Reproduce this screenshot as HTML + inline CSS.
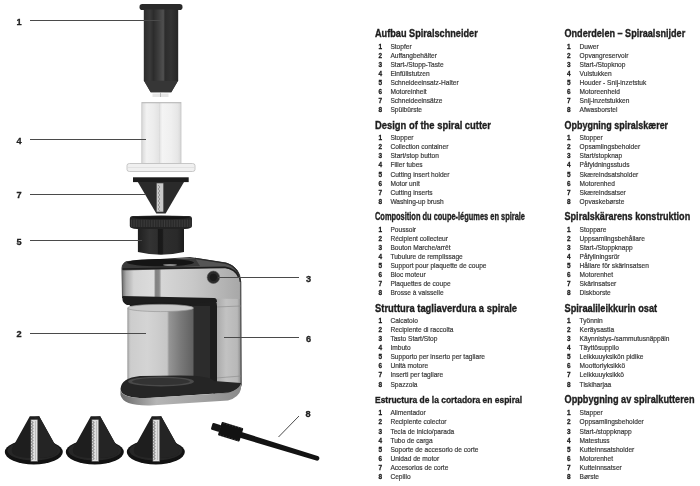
<!DOCTYPE html>
<html><head><meta charset="utf-8">
<style>
html,body{margin:0;padding:0;background:#fff;}
body{width:700px;height:486px;overflow:hidden;position:relative;}
svg{position:absolute;left:0;top:0;will-change:transform;}
.h{font-family:"Liberation Sans",sans-serif;font-weight:bold;fill:#1e1e1e;stroke:#1e1e1e;stroke-width:0.35px;}
.n{font-family:"Liberation Sans",sans-serif;font-weight:bold;font-size:7.6px;fill:#1a1a1a;stroke:#1a1a1a;stroke-width:0.3px;}
.t{font-family:"Liberation Sans",sans-serif;font-size:7.7px;fill:#383838;stroke:#383838;stroke-width:0.2px;}
.lab{font-family:"Liberation Sans",sans-serif;font-weight:bold;font-size:9.2px;fill:#222;stroke:#222;stroke-width:0.3px;}
</style></head><body>
<svg width="700" height="486" viewBox="0 0 700 486">
<defs>
<linearGradient id="stopG" x1="143" x2="178" y1="0" y2="0" gradientUnits="userSpaceOnUse">
<stop offset="0" stop-color="#2a2a2a"/><stop offset="0.2" stop-color="#3a3a3a"/><stop offset="0.3" stop-color="#2c2c2c"/><stop offset="0.45" stop-color="#3e3e3e"/><stop offset="0.58" stop-color="#505050"/><stop offset="0.63" stop-color="#2c2c2c"/><stop offset="0.8" stop-color="#333"/><stop offset="1" stop-color="#262626"/>
</linearGradient>
<linearGradient id="steel" x1="122" x2="240" y1="0" y2="0" gradientUnits="userSpaceOnUse">
<stop offset="0" stop-color="#6a6a6a"/><stop offset="0.035" stop-color="#a8a8a8"/><stop offset="0.1" stop-color="#d4d4d4"/><stop offset="0.27" stop-color="#dcdcdc"/><stop offset="0.285" stop-color="#808080"/><stop offset="0.315" stop-color="#888"/><stop offset="0.335" stop-color="#d6d6d6"/><stop offset="0.6" stop-color="#c8c8c8"/><stop offset="1" stop-color="#a8a8a8"/>
</linearGradient>
<linearGradient id="colG" x1="216" x2="241" y1="0" y2="0" gradientUnits="userSpaceOnUse">
<stop offset="0" stop-color="#a8a8a8"/><stop offset="0.4" stop-color="#c2c2c2"/><stop offset="0.85" stop-color="#b8b8b8"/><stop offset="1" stop-color="#8a8a8a"/>
</linearGradient>
<linearGradient id="jarG" x1="127.5" x2="193.5" y1="0" y2="0" gradientUnits="userSpaceOnUse">
<stop offset="0" stop-color="#b0b0b0"/><stop offset="0.05" stop-color="#cdcdcd"/><stop offset="0.3" stop-color="#d4d4d4"/><stop offset="0.6" stop-color="#c6c6c6"/><stop offset="0.63" stop-color="#959595"/><stop offset="0.8" stop-color="#7a7a7a"/><stop offset="1" stop-color="#606060"/>
</linearGradient>
<linearGradient id="tubeG" x1="142" x2="181" y1="0" y2="0" gradientUnits="userSpaceOnUse">
<stop offset="0" stop-color="#dadada"/><stop offset="0.12" stop-color="#f2f2f2"/><stop offset="0.3" stop-color="#ececec"/><stop offset="0.45" stop-color="#e2e2e2"/><stop offset="0.52" stop-color="#f4f4f4"/><stop offset="0.75" stop-color="#efefef"/><stop offset="0.92" stop-color="#e6e6e6"/><stop offset="1" stop-color="#d6d6d6"/>
</linearGradient>
<linearGradient id="baseRim" x1="0" x2="1" y1="0" y2="0">
<stop offset="0" stop-color="#6a6a6a"/><stop offset="0.3" stop-color="#b5b5b5"/><stop offset="0.7" stop-color="#a0a0a0"/><stop offset="1" stop-color="#8a8a8a"/>
</linearGradient>
<linearGradient id="holdG" x1="138" x2="184" y1="0" y2="0" gradientUnits="userSpaceOnUse">
<stop offset="0" stop-color="#1f1f1f"/><stop offset="0.25" stop-color="#333"/><stop offset="0.42" stop-color="#2e2e2e"/><stop offset="0.44" stop-color="#181818"/><stop offset="0.53" stop-color="#1a1a1a"/><stop offset="0.56" stop-color="#2d2d2d"/><stop offset="0.85" stop-color="#2a2a2a"/><stop offset="1" stop-color="#1c1c1c"/>
</linearGradient>
</defs>
<!-- stopper -->
<rect x="139.5" y="4" width="43" height="6" rx="2.8" fill="#2a2a2a"/>
<path d="M143.8,9.5 L178.2,9.5 L178.2,80.5 L171.3,92.2 L150.7,92.2 L143.8,80.5 Z" fill="url(#stopG)"/>
<path d="M144,80.7 L178,80.7 L171.3,92.2 L150.7,92.2 Z" fill="#363636"/>
<rect x="152.5" y="93.5" width="16" height="3.5" fill="#e6e6e6"/>
<line x1="160.5" y1="92" x2="160.5" y2="97" stroke="#999" stroke-width="0.6"/>
<!-- filler tube -->
<rect x="141.8" y="102.5" width="39.2" height="61" fill="url(#tubeG)" stroke="#c9c9c9" stroke-width="0.9"/>
<line x1="159.5" y1="103" x2="159.5" y2="163" stroke="#dadada" stroke-width="0.7"/>
<line x1="142" y1="102.8" x2="181" y2="102.8" stroke="#b8b8b8" stroke-width="0.8"/>
<path d="M127,165.5 Q127,163.5 129.5,163.5 L192.5,163.5 Q195,163.5 195,165.5 L195,169.5 Q195,171.5 192.5,171.5 L129.5,171.5 Q127,171.5 127,169.5 Z" fill="#f0f0f0" stroke="#c2c2c2" stroke-width="0.9"/>
<line x1="128" y1="167.5" x2="194" y2="167.5" stroke="#d8d8d8" stroke-width="0.6"/>
<!-- insert 7 -->
<rect x="133" y="177.3" width="55.7" height="4.8" fill="#1c1c1c"/>
<polygon points="137.8,182 184,182 165.6,213.5 156.3,213.5" fill="#2a2a2a"/>
<rect x="156.3" y="183" width="7.4" height="29" fill="#c8c8c8" stroke="#3a3a3a" stroke-width="0.6"/>
<path d="M158,185 l2,2 l-2,2 l2,2 l-2,2 l2,2 l-2,2 l2,2 l-2,2 l2,2 l-2,2 l2,2 l-2,2 l2,2" fill="none" stroke="#777" stroke-width="0.6"/>
<!-- holder 5 -->
<path d="M137.9,226 L184,226 L184,252 Q161,257.5 137.9,252 Z" fill="url(#holdG)"/>
<path d="M129.8,219 Q129.8,216 133,216 L189,216 Q192,216 192,219 L192,226 Q192,228.5 185,229 L137,229 Q129.8,228.5 129.8,226 Z" fill="#222"/>
<g stroke="#464646" stroke-width="0.7">
<path d="M131.5,219.5 v7.5 M133.2,219.5 v7.5 M134.8,219.5 v7.5 M136.4,219.5 v7.5 M138.1,219.5 v7.5 M139.8,219.5 v7.5 M141.4,219.5 v7.5 M143.1,219.5 v7.5 M144.7,219.5 v7.5 M146.3,219.5 v7.5 M148.0,219.5 v7.5 M149.7,219.5 v7.5 M151.3,219.5 v7.5 M152.9,219.5 v7.5 M154.6,219.5 v7.5 M156.2,219.5 v7.5 M157.9,219.5 v7.5 M159.6,219.5 v7.5 M161.2,219.5 v7.5 M162.8,219.5 v7.5 M164.5,219.5 v7.5 M166.2,219.5 v7.5 M167.8,219.5 v7.5 M169.4,219.5 v7.5 M171.1,219.5 v7.5 M172.8,219.5 v7.5 M174.4,219.5 v7.5 M176.1,219.5 v7.5 M177.7,219.5 v7.5 M179.3,219.5 v7.5 M181.0,219.5 v7.5 M182.7,219.5 v7.5 M184.3,219.5 v7.5 M185.9,219.5 v7.5 M187.6,219.5 v7.5 M189.2,219.5 v7.5 M190.9,219.5 v7.5"/>
</g>
<ellipse cx="160.9" cy="217.8" rx="30" ry="2" fill="#141414" stroke="#333" stroke-width="0.5"/>
<!-- motor unit: right column + head silhouette -->
<path d="M122,268 Q122,262 130,261.5 L190,257.5 L226,263 Q240,267 240.8,282 L241.2,385 Q241,390 230,393 L214,395 L214,298 L122.5,298 Z" fill="url(#colG)" stroke="#262626" stroke-width="0.9"/>
<line x1="216" y1="307" x2="241" y2="306" stroke="#8a8a8a" stroke-width="0.6"/>
<line x1="216" y1="378" x2="241" y2="376" stroke="#8a8a8a" stroke-width="0.6"/>
<!-- dark area behind jar + frame -->
<path d="M180,299 L211,299 Q217,299 217,306 L217,382 Q217,390 208,392 L180,392 Z" fill="#1e1e1e"/>
<rect x="189" y="306" width="21" height="76" fill="#2c2c2c"/>
<!-- steel band of head -->
<path d="M122.5,268.5 L226,267 Q238.5,270 239.6,283 L239.6,299 L122.5,297 Z" fill="url(#steel)"/>
<!-- top plate -->
<path d="M122.3,268.5 Q122,262 128,261 L195,258.3 L226,263.5 Q236.5,266.5 239.5,274 L238,277 Q235,270 225,268 L122.5,270.5 Z" fill="#555"/>
<path d="M122.3,268.5 Q122,262 128,261 L195,258.3 L200,266 L122.5,270 Z" fill="#3a3a3a"/>
<ellipse cx="160.5" cy="262.6" rx="33.5" ry="3.6" fill="#151515"/>
<ellipse cx="170" cy="265" rx="7" ry="0.9" fill="#8a8a8a"/>
<path d="M122.5,269 L225,267.3 Q235.5,269 238.6,277" fill="none" stroke="#1c1c1c" stroke-width="1.5"/>
<path d="M195,258.3 L226,263.4 Q238.5,266.5 240.3,282" fill="none" stroke="#2a2a2a" stroke-width="1.3"/>
<!-- button -->
<circle cx="213.4" cy="277.3" r="6.2" fill="#2a2a2a" stroke="#555" stroke-width="0.6"/>
<circle cx="213.4" cy="277.3" r="3.6" fill="#1a1a1a"/>
<!-- underside lip -->
<path d="M122.5,296 L214,298 Q217,298 217,302 L210,302 Q200,302 194,305 L127,305 Q123,303 122.5,300 Z" fill="#1d1d1d"/>
<ellipse cx="160.5" cy="305.5" rx="31" ry="3" fill="#1a1a1a"/>
<!-- jar -->
<path d="M127.5,308 L193.5,308 L193.5,383 Q160,391 127.5,383 Z" fill="url(#jarG)"/>
<ellipse cx="160.5" cy="308" rx="33" ry="3.6" fill="#c9c9c9" stroke="#9a9a9a" stroke-width="0.7"/>
<line x1="128" y1="308" x2="128" y2="383" stroke="#a0a0a0" stroke-width="0.9"/>
<!-- base -->
<path d="M120.5,389 Q121,378 140,376 L180,375.5 Q210,375.5 214,381 L241,383 Q241,389 230,392.5 L150,398 Q121,399 120.5,389 Z" fill="#252525"/>
<ellipse cx="161" cy="381.5" rx="33" ry="5" fill="#4a4a4a"/>
<ellipse cx="161" cy="381.5" rx="29" ry="3.5" fill="#333"/>
<path d="M120.5,390 Q122,398 145,398 L228,393 Q238,390 241,384 L241,389 Q239,397.5 228,400.5 L150,405.5 Q123,406 120.5,395 Z" fill="url(#baseRim)"/>
<!-- cones -->
<g id="cone1">
<ellipse cx="33.8" cy="452" rx="29" ry="12.5" fill="#121212"/>
<ellipse cx="33.8" cy="450.5" rx="26.5" ry="10" fill="#262626"/>
<path d="M29.8,416.3 L39.2,416.3 L53.5,442 Q58,448 57,452 Q55,458 34.5,458 Q14,458 12,452 Q11,448 15.5,442 Z" fill="#1e1e1e"/>
<path d="M34.5,417 L39.2,416.3 L53.5,442 Q58,448 57,452 Q55,458 34.5,458 Z" fill="#242424"/>
<rect x="30.8" y="419.5" width="7" height="42" fill="#e0e0e0" stroke="#3a3a3a" stroke-width="0.5"/>
<path d="M31.3,421 l2,1.5 l-2,1.5 l2,1.5 l-2,1.5 l2,1.5 l-2,1.5 l2,1.5 l-2,1.5 l2,1.5 l-2,1.5 l2,1.5 l-2,1.5 l2,1.5 l-2,1.5 l2,1.5 l-2,1.5 l2,1.5 l-2,1.5 l2,1.5 l-2,1.5 l2,1.5 l-2,1.5 l2,1.5 l-2,1.5 l2,1.5 l-2,1.5" fill="none" stroke="#555" stroke-width="0.7"/>
<line x1="35.5" y1="421" x2="35.5" y2="460" stroke="#9a9a9a" stroke-width="0.5"/>
</g>
<use href="#cone1" x="61"/>
<use href="#cone1" x="122"/>
<!-- brush -->
<g transform="rotate(17 228 431)">
<path d="M238,428 L321,428.6 A2.4,2.4 0 0 1 321,433.4 L238,434 Z" fill="#131313"/>
<rect x="219.5" y="424" width="22.5" height="14" rx="1" fill="#121212"/>
<g stroke="#fff" stroke-width="0.5" opacity="0.35">
<path d="M222,424 v1.3 M225,424 v1.3 M228,424 v1.3 M231,424 v1.3 M234,424 v1.3 M237,424 v1.3 M240,424 v1.3 M222,438 v-1.3 M225,438 v-1.3 M228,438 v-1.3 M231,438 v-1.3 M234,438 v-1.3 M237,438 v-1.3 M240,438 v-1.3"/>
</g>
<rect x="211" y="427.5" width="9" height="7" rx="1.2" fill="#151515"/>
</g>

<!-- leaders & labels -->
<g stroke="#4a4a4a" stroke-width="1">
<line x1="30" y1="20.5" x2="163" y2="20.5"/>
<line x1="30" y1="139.5" x2="146" y2="139.5"/>
<line x1="30" y1="194.5" x2="145" y2="194.5"/>
<line x1="30" y1="240.5" x2="142" y2="240.5"/>
<line x1="30" y1="333.5" x2="146" y2="333.5"/>
<line x1="218" y1="277.5" x2="299" y2="277.5"/>
<line x1="224" y1="337.5" x2="299" y2="337.5"/>
<line x1="278.5" y1="437" x2="299" y2="416"/>
</g>
<text class="lab" x="16.6" y="24.8">1</text>
<text class="lab" x="16.6" y="143.8">4</text>
<text class="lab" x="16.6" y="198.3">7</text>
<text class="lab" x="16.6" y="244.5">5</text>
<text class="lab" x="16.6" y="337.3">2</text>
<text class="lab" x="306" y="281.8">3</text>
<text class="lab" x="306" y="341.8">6</text>
<text class="lab" x="305.5" y="416.8">8</text>

<text class="h" x="375" y="37" font-size="10.8" textLength="102.7" lengthAdjust="spacingAndGlyphs">Aufbau Spiralschneider</text>
<text class="n" x="378.4" y="48.7" textLength="3.6" lengthAdjust="spacingAndGlyphs">1</text>
<text class="t" x="390.4" y="48.7" textLength="21.27" lengthAdjust="spacingAndGlyphs">Stopfer</text>
<text class="n" x="378.4" y="57.8" textLength="3.6" lengthAdjust="spacingAndGlyphs">2</text>
<text class="t" x="390.4" y="57.8" textLength="46.47" lengthAdjust="spacingAndGlyphs">Auffangbehälter</text>
<text class="n" x="378.4" y="66.9" textLength="3.6" lengthAdjust="spacingAndGlyphs">3</text>
<text class="t" x="390.4" y="66.9" textLength="53.18" lengthAdjust="spacingAndGlyphs">Start-/Stopp-Taste</text>
<text class="n" x="378.4" y="76.0" textLength="3.6" lengthAdjust="spacingAndGlyphs">4</text>
<text class="t" x="390.4" y="76.0" textLength="39.25" lengthAdjust="spacingAndGlyphs">Einfüllstutzen</text>
<text class="n" x="378.4" y="85.1" textLength="3.6" lengthAdjust="spacingAndGlyphs">5</text>
<text class="t" x="390.4" y="85.1" textLength="68.22" lengthAdjust="spacingAndGlyphs">Schneideeinsatz-Halter</text>
<text class="n" x="378.4" y="94.2" textLength="3.6" lengthAdjust="spacingAndGlyphs">6</text>
<text class="t" x="390.4" y="94.2" textLength="36.31" lengthAdjust="spacingAndGlyphs">Motoreinheit</text>
<text class="n" x="378.4" y="103.3" textLength="3.6" lengthAdjust="spacingAndGlyphs">7</text>
<text class="t" x="390.4" y="103.3" textLength="52.09" lengthAdjust="spacingAndGlyphs">Schneideeinsätze</text>
<text class="n" x="378.4" y="112.4" textLength="3.6" lengthAdjust="spacingAndGlyphs">8</text>
<text class="t" x="390.4" y="112.4" textLength="31.55" lengthAdjust="spacingAndGlyphs">Spülbürste</text>
<text class="h" x="375" y="128.7" font-size="10.8" textLength="116" lengthAdjust="spacingAndGlyphs">Design of the spiral cutter</text>
<text class="n" x="378.4" y="140.1" textLength="3.6" lengthAdjust="spacingAndGlyphs">1</text>
<text class="t" x="390.4" y="140.1" textLength="23.11" lengthAdjust="spacingAndGlyphs">Stopper</text>
<text class="n" x="378.4" y="149.2" textLength="3.6" lengthAdjust="spacingAndGlyphs">2</text>
<text class="t" x="390.4" y="149.2" textLength="57.95" lengthAdjust="spacingAndGlyphs">Collection container</text>
<text class="n" x="378.4" y="158.3" textLength="3.6" lengthAdjust="spacingAndGlyphs">3</text>
<text class="t" x="390.4" y="158.3" textLength="48.42" lengthAdjust="spacingAndGlyphs">Start/stop button</text>
<text class="n" x="378.4" y="167.4" textLength="3.6" lengthAdjust="spacingAndGlyphs">4</text>
<text class="t" x="390.4" y="167.4" textLength="32.27" lengthAdjust="spacingAndGlyphs">Filler tubes</text>
<text class="n" x="378.4" y="176.5" textLength="3.6" lengthAdjust="spacingAndGlyphs">5</text>
<text class="t" x="390.4" y="176.5" textLength="59.05" lengthAdjust="spacingAndGlyphs">Cutting insert holder</text>
<text class="n" x="378.4" y="185.6" textLength="3.6" lengthAdjust="spacingAndGlyphs">6</text>
<text class="t" x="390.4" y="185.6" textLength="29.34" lengthAdjust="spacingAndGlyphs">Motor unit</text>
<text class="n" x="378.4" y="194.7" textLength="3.6" lengthAdjust="spacingAndGlyphs">7</text>
<text class="t" x="390.4" y="194.7" textLength="42.18" lengthAdjust="spacingAndGlyphs">Cutting inserts</text>
<text class="n" x="378.4" y="203.8" textLength="3.6" lengthAdjust="spacingAndGlyphs">8</text>
<text class="t" x="390.4" y="203.8" textLength="53.30" lengthAdjust="spacingAndGlyphs">Washing-up brush</text>
<text class="h" x="375" y="219.6" font-size="10.0" textLength="150" lengthAdjust="spacingAndGlyphs">Composition du coupe-légumes en spirale</text>
<text class="n" x="378.4" y="231.5" textLength="3.6" lengthAdjust="spacingAndGlyphs">1</text>
<text class="t" x="390.4" y="231.5" textLength="25.67" lengthAdjust="spacingAndGlyphs">Poussoir</text>
<text class="n" x="378.4" y="240.6" textLength="3.6" lengthAdjust="spacingAndGlyphs">2</text>
<text class="t" x="390.4" y="240.6" textLength="57.58" lengthAdjust="spacingAndGlyphs">Récipient collecteur</text>
<text class="n" x="378.4" y="249.7" textLength="3.6" lengthAdjust="spacingAndGlyphs">3</text>
<text class="t" x="390.4" y="249.7" textLength="60.15" lengthAdjust="spacingAndGlyphs">Bouton Marche/arrêt</text>
<text class="n" x="378.4" y="258.8" textLength="3.6" lengthAdjust="spacingAndGlyphs">4</text>
<text class="t" x="390.4" y="258.8" textLength="72.38" lengthAdjust="spacingAndGlyphs">Tubulure de remplissage</text>
<text class="n" x="378.4" y="267.9" textLength="3.6" lengthAdjust="spacingAndGlyphs">5</text>
<text class="t" x="390.4" y="267.9" textLength="96.12" lengthAdjust="spacingAndGlyphs">Support pour plaquette de coupe</text>
<text class="n" x="378.4" y="277.0" textLength="3.6" lengthAdjust="spacingAndGlyphs">6</text>
<text class="t" x="390.4" y="277.0" textLength="35.21" lengthAdjust="spacingAndGlyphs">Bloc moteur</text>
<text class="n" x="378.4" y="286.1" textLength="3.6" lengthAdjust="spacingAndGlyphs">7</text>
<text class="t" x="390.4" y="286.1" textLength="60.17" lengthAdjust="spacingAndGlyphs">Plaquettes de coupe</text>
<text class="n" x="378.4" y="295.2" textLength="3.6" lengthAdjust="spacingAndGlyphs">8</text>
<text class="t" x="390.4" y="295.2" textLength="53.18" lengthAdjust="spacingAndGlyphs">Brosse à vaisselle</text>
<text class="h" x="375" y="311.8" font-size="10.8" textLength="142" lengthAdjust="spacingAndGlyphs">Struttura tagliaverdura a spirale</text>
<text class="n" x="378.4" y="322.8" textLength="3.6" lengthAdjust="spacingAndGlyphs">1</text>
<text class="t" x="390.4" y="322.8" textLength="27.51" lengthAdjust="spacingAndGlyphs">Calcatoio</text>
<text class="n" x="378.4" y="331.9" textLength="3.6" lengthAdjust="spacingAndGlyphs">2</text>
<text class="t" x="390.4" y="331.9" textLength="63.09" lengthAdjust="spacingAndGlyphs">Recipiente di raccolta</text>
<text class="n" x="378.4" y="341.0" textLength="3.6" lengthAdjust="spacingAndGlyphs">3</text>
<text class="t" x="390.4" y="341.0" textLength="46.95" lengthAdjust="spacingAndGlyphs">Tasto Start/Stop</text>
<text class="n" x="378.4" y="350.1" textLength="3.6" lengthAdjust="spacingAndGlyphs">4</text>
<text class="t" x="390.4" y="350.1" textLength="20.17" lengthAdjust="spacingAndGlyphs">Imbuto</text>
<text class="n" x="378.4" y="359.2" textLength="3.6" lengthAdjust="spacingAndGlyphs">5</text>
<text class="t" x="390.4" y="359.2" textLength="94.63" lengthAdjust="spacingAndGlyphs">Supporto per inserto per tagliare</text>
<text class="n" x="378.4" y="368.3" textLength="3.6" lengthAdjust="spacingAndGlyphs">6</text>
<text class="t" x="390.4" y="368.3" textLength="37.77" lengthAdjust="spacingAndGlyphs">Unità motore</text>
<text class="n" x="378.4" y="377.4" textLength="3.6" lengthAdjust="spacingAndGlyphs">7</text>
<text class="t" x="390.4" y="377.4" textLength="52.81" lengthAdjust="spacingAndGlyphs">Inserti per tagliare</text>
<text class="n" x="378.4" y="386.5" textLength="3.6" lengthAdjust="spacingAndGlyphs">8</text>
<text class="t" x="390.4" y="386.5" textLength="27.15" lengthAdjust="spacingAndGlyphs">Spazzola</text>
<text class="h" x="375" y="402.6" font-size="9.6" textLength="147" lengthAdjust="spacingAndGlyphs">Estructura de la cortadora en espiral</text>
<text class="n" x="378.4" y="415.3" textLength="3.6" lengthAdjust="spacingAndGlyphs">1</text>
<text class="t" x="390.4" y="415.3" textLength="35.21" lengthAdjust="spacingAndGlyphs">Alimentador</text>
<text class="n" x="378.4" y="424.4" textLength="3.6" lengthAdjust="spacingAndGlyphs">2</text>
<text class="t" x="390.4" y="424.4" textLength="56.12" lengthAdjust="spacingAndGlyphs">Recipiente colector</text>
<text class="n" x="378.4" y="433.5" textLength="3.6" lengthAdjust="spacingAndGlyphs">3</text>
<text class="t" x="390.4" y="433.5" textLength="63.83" lengthAdjust="spacingAndGlyphs">Tecla de inicio/parada</text>
<text class="n" x="378.4" y="442.6" textLength="3.6" lengthAdjust="spacingAndGlyphs">4</text>
<text class="t" x="390.4" y="442.6" textLength="42.31" lengthAdjust="spacingAndGlyphs">Tubo de carga</text>
<text class="n" x="378.4" y="451.7" textLength="3.6" lengthAdjust="spacingAndGlyphs">5</text>
<text class="t" x="390.4" y="451.7" textLength="88.03" lengthAdjust="spacingAndGlyphs">Soporte de accesorio de corte</text>
<text class="n" x="378.4" y="460.8" textLength="3.6" lengthAdjust="spacingAndGlyphs">6</text>
<text class="t" x="390.4" y="460.8" textLength="48.78" lengthAdjust="spacingAndGlyphs">Unidad de motor</text>
<text class="n" x="378.4" y="469.9" textLength="3.6" lengthAdjust="spacingAndGlyphs">7</text>
<text class="t" x="390.4" y="469.9" textLength="57.95" lengthAdjust="spacingAndGlyphs">Accesorios de corte</text>
<text class="n" x="378.4" y="479.0" textLength="3.6" lengthAdjust="spacingAndGlyphs">8</text>
<text class="t" x="390.4" y="479.0" textLength="20.17" lengthAdjust="spacingAndGlyphs">Cepillo</text>
<text class="h" x="564.5" y="37" font-size="10.8" textLength="120.7" lengthAdjust="spacingAndGlyphs">Onderdelen – Spiraalsnijder</text>
<text class="n" x="567" y="48.7" textLength="3.6" lengthAdjust="spacingAndGlyphs">1</text>
<text class="t" x="579.6" y="48.7" textLength="19.07" lengthAdjust="spacingAndGlyphs">Duwer</text>
<text class="n" x="567" y="57.8" textLength="3.6" lengthAdjust="spacingAndGlyphs">2</text>
<text class="t" x="579.6" y="57.8" textLength="48.78" lengthAdjust="spacingAndGlyphs">Opvangreservoir</text>
<text class="n" x="567" y="66.9" textLength="3.6" lengthAdjust="spacingAndGlyphs">3</text>
<text class="t" x="579.6" y="66.9" textLength="45.85" lengthAdjust="spacingAndGlyphs">Start-/Stopknop</text>
<text class="n" x="567" y="76.0" textLength="3.6" lengthAdjust="spacingAndGlyphs">4</text>
<text class="t" x="579.6" y="76.0" textLength="32.03" lengthAdjust="spacingAndGlyphs">Vulstukken</text>
<text class="n" x="567" y="85.1" textLength="3.6" lengthAdjust="spacingAndGlyphs">5</text>
<text class="t" x="579.6" y="85.1" textLength="66.75" lengthAdjust="spacingAndGlyphs">Houder - Snij-inzetstuk</text>
<text class="n" x="567" y="94.2" textLength="3.6" lengthAdjust="spacingAndGlyphs">6</text>
<text class="t" x="579.6" y="94.2" textLength="40.35" lengthAdjust="spacingAndGlyphs">Motoreenheid</text>
<text class="n" x="567" y="103.3" textLength="3.6" lengthAdjust="spacingAndGlyphs">7</text>
<text class="t" x="579.6" y="103.3" textLength="49.88" lengthAdjust="spacingAndGlyphs">Snij-inzetstukken</text>
<text class="n" x="567" y="112.4" textLength="3.6" lengthAdjust="spacingAndGlyphs">8</text>
<text class="t" x="579.6" y="112.4" textLength="37.77" lengthAdjust="spacingAndGlyphs">Afwasborstel</text>
<text class="h" x="564.5" y="128.7" font-size="10.8" textLength="103.6" lengthAdjust="spacingAndGlyphs">Opbygning spiralskærer</text>
<text class="n" x="567" y="140.1" textLength="3.6" lengthAdjust="spacingAndGlyphs">1</text>
<text class="t" x="579.6" y="140.1" textLength="23.11" lengthAdjust="spacingAndGlyphs">Stopper</text>
<text class="n" x="567" y="149.2" textLength="3.6" lengthAdjust="spacingAndGlyphs">2</text>
<text class="t" x="579.6" y="149.2" textLength="60.52" lengthAdjust="spacingAndGlyphs">Opsamlingsbeholder</text>
<text class="n" x="567" y="158.3" textLength="3.6" lengthAdjust="spacingAndGlyphs">3</text>
<text class="t" x="579.6" y="158.3" textLength="42.55" lengthAdjust="spacingAndGlyphs">Start/stopknap</text>
<text class="n" x="567" y="167.4" textLength="3.6" lengthAdjust="spacingAndGlyphs">4</text>
<text class="t" x="579.6" y="167.4" textLength="49.89" lengthAdjust="spacingAndGlyphs">Påfyldningsstuds</text>
<text class="n" x="567" y="176.5" textLength="3.6" lengthAdjust="spacingAndGlyphs">5</text>
<text class="t" x="579.6" y="176.5" textLength="58.68" lengthAdjust="spacingAndGlyphs">Skæreindsatsholder</text>
<text class="n" x="567" y="185.6" textLength="3.6" lengthAdjust="spacingAndGlyphs">6</text>
<text class="t" x="579.6" y="185.6" textLength="35.21" lengthAdjust="spacingAndGlyphs">Motorenhed</text>
<text class="n" x="567" y="194.7" textLength="3.6" lengthAdjust="spacingAndGlyphs">7</text>
<text class="t" x="579.6" y="194.7" textLength="46.21" lengthAdjust="spacingAndGlyphs">Skæreindsatser</text>
<text class="n" x="567" y="203.8" textLength="3.6" lengthAdjust="spacingAndGlyphs">8</text>
<text class="t" x="579.6" y="203.8" textLength="44.74" lengthAdjust="spacingAndGlyphs">Opvaskebørste</text>
<text class="h" x="564.5" y="219.6" font-size="10.8" textLength="125.7" lengthAdjust="spacingAndGlyphs">Spiralskärarens konstruktion</text>
<text class="n" x="567" y="231.5" textLength="3.6" lengthAdjust="spacingAndGlyphs">1</text>
<text class="t" x="579.6" y="231.5" textLength="26.78" lengthAdjust="spacingAndGlyphs">Stoppare</text>
<text class="n" x="567" y="240.6" textLength="3.6" lengthAdjust="spacingAndGlyphs">2</text>
<text class="t" x="579.6" y="240.6" textLength="65.29" lengthAdjust="spacingAndGlyphs">Uppsamlingsbehållare</text>
<text class="n" x="567" y="249.7" textLength="3.6" lengthAdjust="spacingAndGlyphs">3</text>
<text class="t" x="579.6" y="249.7" textLength="53.19" lengthAdjust="spacingAndGlyphs">Start-/Stoppknapp</text>
<text class="n" x="567" y="258.8" textLength="3.6" lengthAdjust="spacingAndGlyphs">4</text>
<text class="t" x="579.6" y="258.8" textLength="39.97" lengthAdjust="spacingAndGlyphs">Påfyllningsrör</text>
<text class="n" x="567" y="267.9" textLength="3.6" lengthAdjust="spacingAndGlyphs">5</text>
<text class="t" x="579.6" y="267.9" textLength="69.31" lengthAdjust="spacingAndGlyphs">Hållare för skärinsatsen</text>
<text class="n" x="567" y="277.0" textLength="3.6" lengthAdjust="spacingAndGlyphs">6</text>
<text class="t" x="579.6" y="277.0" textLength="33.38" lengthAdjust="spacingAndGlyphs">Motorenhet</text>
<text class="n" x="567" y="286.1" textLength="3.6" lengthAdjust="spacingAndGlyphs">7</text>
<text class="t" x="579.6" y="286.1" textLength="36.67" lengthAdjust="spacingAndGlyphs">Skärinsatser</text>
<text class="n" x="567" y="295.2" textLength="3.6" lengthAdjust="spacingAndGlyphs">8</text>
<text class="t" x="579.6" y="295.2" textLength="31.17" lengthAdjust="spacingAndGlyphs">Diskborste</text>
<text class="h" x="564.5" y="311.8" font-size="10.8" textLength="92.6" lengthAdjust="spacingAndGlyphs">Spiraalileikkurin osat</text>
<text class="n" x="567" y="322.8" textLength="3.6" lengthAdjust="spacingAndGlyphs">1</text>
<text class="t" x="579.6" y="322.8" textLength="23.11" lengthAdjust="spacingAndGlyphs">Työnnin</text>
<text class="n" x="567" y="331.9" textLength="3.6" lengthAdjust="spacingAndGlyphs">2</text>
<text class="t" x="579.6" y="331.9" textLength="34.48" lengthAdjust="spacingAndGlyphs">Keräysastia</text>
<text class="n" x="567" y="341.0" textLength="3.6" lengthAdjust="spacingAndGlyphs">3</text>
<text class="t" x="579.6" y="341.0" textLength="89.86" lengthAdjust="spacingAndGlyphs">Käynnistys-/sammutusnäppäin</text>
<text class="n" x="567" y="350.1" textLength="3.6" lengthAdjust="spacingAndGlyphs">4</text>
<text class="t" x="579.6" y="350.1" textLength="39.25" lengthAdjust="spacingAndGlyphs">Täyttösuppilo</text>
<text class="n" x="567" y="359.2" textLength="3.6" lengthAdjust="spacingAndGlyphs">5</text>
<text class="t" x="579.6" y="359.2" textLength="63.82" lengthAdjust="spacingAndGlyphs">Leikkuuyksikön pidike</text>
<text class="n" x="567" y="368.3" textLength="3.6" lengthAdjust="spacingAndGlyphs">6</text>
<text class="t" x="579.6" y="368.3" textLength="45.47" lengthAdjust="spacingAndGlyphs">Moottoriyksikkö</text>
<text class="n" x="567" y="377.4" textLength="3.6" lengthAdjust="spacingAndGlyphs">7</text>
<text class="t" x="579.6" y="377.4" textLength="44.38" lengthAdjust="spacingAndGlyphs">Leikkuuyksikkö</text>
<text class="n" x="567" y="386.5" textLength="3.6" lengthAdjust="spacingAndGlyphs">8</text>
<text class="t" x="579.6" y="386.5" textLength="31.66" lengthAdjust="spacingAndGlyphs">Tiskiharjaa</text>
<text class="h" x="564.5" y="403" font-size="10.8" textLength="130" lengthAdjust="spacingAndGlyphs">Oppbygning av spiralkutteren</text>
<text class="n" x="567" y="415.3" textLength="3.6" lengthAdjust="spacingAndGlyphs">1</text>
<text class="t" x="579.6" y="415.3" textLength="23.11" lengthAdjust="spacingAndGlyphs">Stapper</text>
<text class="n" x="567" y="424.4" textLength="3.6" lengthAdjust="spacingAndGlyphs">2</text>
<text class="t" x="579.6" y="424.4" textLength="64.19" lengthAdjust="spacingAndGlyphs">Oppsamlingsbeholder</text>
<text class="n" x="567" y="433.5" textLength="3.6" lengthAdjust="spacingAndGlyphs">3</text>
<text class="t" x="579.6" y="433.5" textLength="52.08" lengthAdjust="spacingAndGlyphs">Start-/stoppknapp</text>
<text class="n" x="567" y="442.6" textLength="3.6" lengthAdjust="spacingAndGlyphs">4</text>
<text class="t" x="579.6" y="442.6" textLength="30.07" lengthAdjust="spacingAndGlyphs">Matestuss</text>
<text class="n" x="567" y="451.7" textLength="3.6" lengthAdjust="spacingAndGlyphs">5</text>
<text class="t" x="579.6" y="451.7" textLength="54.66" lengthAdjust="spacingAndGlyphs">Kutteinnsatsholder</text>
<text class="n" x="567" y="460.8" textLength="3.6" lengthAdjust="spacingAndGlyphs">6</text>
<text class="t" x="579.6" y="460.8" textLength="33.38" lengthAdjust="spacingAndGlyphs">Motorenhet</text>
<text class="n" x="567" y="469.9" textLength="3.6" lengthAdjust="spacingAndGlyphs">7</text>
<text class="t" x="579.6" y="469.9" textLength="42.18" lengthAdjust="spacingAndGlyphs">Kutteinnsatser</text>
<text class="n" x="567" y="479.0" textLength="3.6" lengthAdjust="spacingAndGlyphs">8</text>
<text class="t" x="579.6" y="479.0" textLength="19.43" lengthAdjust="spacingAndGlyphs">Børste</text>
</svg>
</body></html>
